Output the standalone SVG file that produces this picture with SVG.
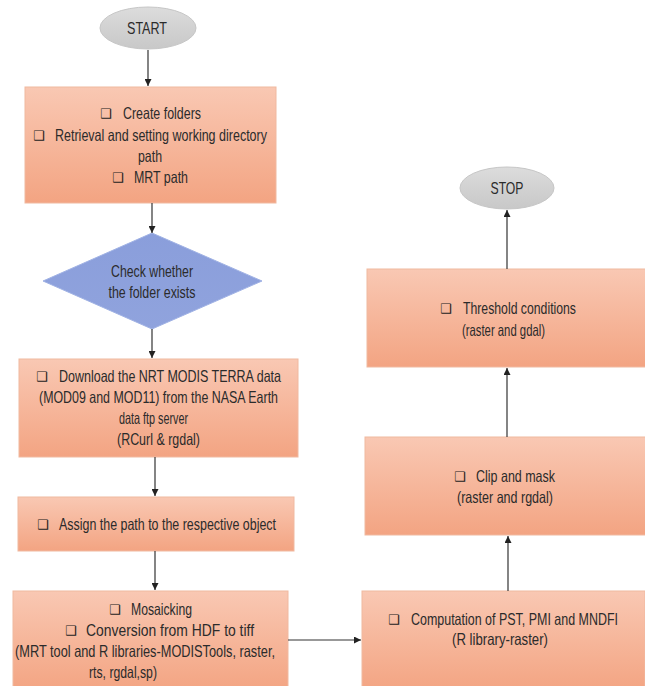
<svg xmlns="http://www.w3.org/2000/svg" width="645" height="686" viewBox="0 0 645 686">
<defs>
<linearGradient id="gBox" x1="0" y1="0" x2="0" y2="1">
<stop offset="0" stop-color="#f9c8b3"/>
<stop offset="1" stop-color="#f3a482"/>
</linearGradient>
<linearGradient id="gDia" x1="0" y1="0" x2="0" y2="1">
<stop offset="0" stop-color="#8a9edb"/>
<stop offset="1" stop-color="#90a3dd"/>
</linearGradient>
<linearGradient id="gEll" x1="0" y1="0" x2="0" y2="1">
<stop offset="0" stop-color="#dcdcdc"/>
<stop offset="1" stop-color="#c8c8c8"/>
</linearGradient>
<marker id="arr" viewBox="0 0 10 10" refX="10" refY="5" markerWidth="7" markerHeight="7" markerUnits="userSpaceOnUse" orient="auto">
<path d="M0,0 L10,5 L0,10 z" fill="#222"/>
</marker>
</defs>
<style>
.box{fill:url(#gBox);stroke:#f0b9a0;stroke-width:1}
.dia{fill:url(#gDia);stroke:#a0b2e4;stroke-width:1}
.ell{fill:url(#gEll);stroke:#c6c6c6;stroke-width:1}
text{font-family:"Liberation Sans","DejaVu Sans",sans-serif;font-size:16.5px;fill:#2b2b2b}
text.b{font-family:"DejaVu Sans",sans-serif;font-size:13px;font-weight:bold;fill:#222}
.c{text-anchor:middle}
.e{text-anchor:end}
.con line{stroke:#333;stroke-width:1.2;marker-end:url(#arr)}
</style>
<rect width="645" height="686" fill="#fff"/>

<g id="start">
<ellipse class="ell" cx="148" cy="28" rx="48" ry="21"/>
<text class="c" x="147" y="34" textLength="40" lengthAdjust="spacingAndGlyphs">START</text>
</g>

<g id="setup">
<rect class="box" x="25" y="87" width="251" height="116"/>
<text class="b" x="100" y="118">❑</text>
<text x="123" y="119" textLength="78" lengthAdjust="spacingAndGlyphs">Create folders</text>
<text class="b" x="33" y="140">❑</text>
<text x="55" y="141" textLength="212" lengthAdjust="spacingAndGlyphs">Retrieval and setting working directory</text>
<text class="c" x="150" y="162" textLength="24" lengthAdjust="spacingAndGlyphs">path</text>
<text class="b" x="112" y="182">❑</text>
<text x="134" y="183" textLength="54" lengthAdjust="spacingAndGlyphs">MRT path</text>
</g>

<g id="check">
<polygon class="dia" points="152,233 262,281 152,329 43,281"/>
<text class="c" x="152" y="277" textLength="82" lengthAdjust="spacingAndGlyphs">Check whether</text>
<text class="c" x="152" y="298" textLength="87" lengthAdjust="spacingAndGlyphs">the folder exists</text>
</g>

<g id="download">
<rect class="box" x="19" y="359" width="279" height="98"/>
<text class="b" x="36" y="381">❑</text>
<text x="59" y="382" textLength="222" lengthAdjust="spacingAndGlyphs">Download the NRT MODIS TERRA data</text>
<text x="39" y="403" textLength="239" lengthAdjust="spacingAndGlyphs">(MOD09 and MOD11) from the NASA Earth</text>
<text x="119" y="424" textLength="69" lengthAdjust="spacingAndGlyphs">data ftp server</text>
<text x="117" y="445" textLength="83" lengthAdjust="spacingAndGlyphs">(RCurl &amp; rgdal)</text>
</g>

<g id="assign">
<rect class="box" x="18" y="497" width="276" height="54"/>
<text class="b" x="37" y="529">❑</text>
<text x="59" y="530" textLength="217" lengthAdjust="spacingAndGlyphs">Assign the path to the respective object</text>
</g>

<g id="mosaic">
<rect class="box" x="13" y="591" width="275" height="100"/>
<text class="b" x="109" y="614">❑</text>
<text x="131" y="615" textLength="61" lengthAdjust="spacingAndGlyphs">Mosaicking</text>
<text class="b" x="65" y="635">❑</text>
<text x="86" y="636" textLength="168" lengthAdjust="spacingAndGlyphs">Conversion from HDF to tiff</text>
<text x="15" y="657" textLength="260" lengthAdjust="spacingAndGlyphs">(MRT tool and R libraries-MODISTools, raster,</text>
<text x="89" y="678" textLength="68" lengthAdjust="spacingAndGlyphs">rts, rgdal,sp)</text>
</g>

<g id="compute">
<rect class="box" x="362" y="591" width="283" height="100"/>
<text class="b" x="388" y="624">❑</text>
<text class="e" x="618" y="625" font-size="15.5" textLength="207" lengthAdjust="spacingAndGlyphs">Computation of PST, PMI and MNDFI</text>
<text x="452" y="645" textLength="96" lengthAdjust="spacingAndGlyphs">(R library-raster)</text>
</g>

<g id="clip">
<rect class="box" x="365" y="437" width="281" height="98"/>
<text class="b" x="454" y="481">❑</text>
<text x="476" y="482" textLength="79" lengthAdjust="spacingAndGlyphs">Clip and mask</text>
<text x="457" y="503" textLength="96" lengthAdjust="spacingAndGlyphs">(raster and rgdal)</text>
</g>

<g id="threshold">
<rect class="box" x="367" y="269" width="279" height="98"/>
<text class="b" x="440" y="313">❑</text>
<text x="463" y="314" textLength="113" lengthAdjust="spacingAndGlyphs">Threshold conditions</text>
<text x="462" y="336" textLength="83" lengthAdjust="spacingAndGlyphs">(raster and gdal)</text>
</g>

<g id="stop">
<ellipse class="ell" cx="507" cy="188" rx="47" ry="21"/>
<text class="c" x="507" y="194" textLength="33" lengthAdjust="spacingAndGlyphs">STOP</text>
</g>

<g id="connectors" class="con">
<line x1="148" y1="50" x2="148" y2="86"/>
<line x1="152" y1="203" x2="152" y2="233"/>
<line x1="152" y1="329" x2="152" y2="358"/>
<line x1="155" y1="457" x2="155" y2="496"/>
<line x1="155" y1="551" x2="155" y2="590"/>
<line x1="288" y1="640" x2="361" y2="640"/>
<line x1="508" y1="591" x2="508" y2="536"/>
<line x1="507" y1="437" x2="507" y2="368"/>
<line x1="507" y1="269" x2="507" y2="210"/>
</g>
</svg>
